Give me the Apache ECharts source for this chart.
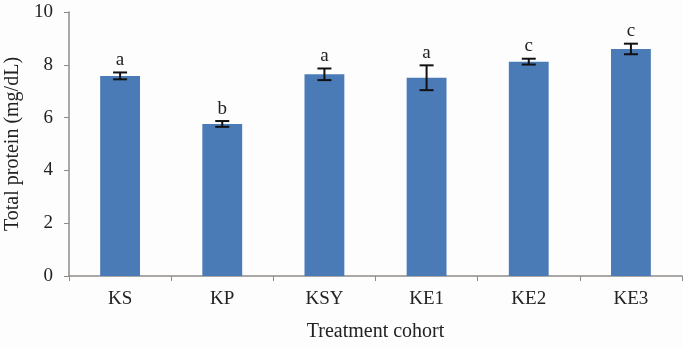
<!DOCTYPE html>
<html>
<head>
<meta charset="utf-8">
<script src="https://cdn.jsdelivr.net/npm/echarts@6/dist/echarts.min.js"></script>
<style>
  html, body { margin: 0; padding: 0; background: #fdfdfd; }
  #chart { width: 683px; height: 348px; }
</style>
</head>
<body>
<div id="chart"></div>
<script>
let cohorts = ["KS", "KP", "KSY", "KE1", "KE2", "KE3"];
let protein = [7.58, 5.76, 7.64, 7.51, 8.12, 8.6];
let errors = [0.13, 0.11, 0.22, 0.47, 0.11, 0.2];
let letters = ["a", "b", "a", "a", "c", "c"];
let yTicks = [0, 2, 4, 6, 8, 10];

let chart = echarts.init(document.getElementById("chart"));
let font = "Liberation Serif";
let axisGray = "#8e8a87";

chart.setOption({
  animation: false,
  backgroundColor: "#fdfdfd",
  textStyle: { fontFamily: font, color: "#222" },
  grid: { left: 69, right: 1, top: 12, bottom: 72, outerBoundsMode: "none" },
  xAxis: {
    type: "category",
    data: cohorts,
    name: "Treatment cohort",
    nameLocation: "middle",
    nameGap: 46,
    nameTextStyle: { fontFamily: font, fontSize: 20, color: "#222" },
    axisLine: { lineStyle: { color: axisGray, width: 1.5 } },
    axisTick: { show: true, length: 5, lineStyle: { color: axisGray } },
    axisLabel: { fontFamily: font, fontSize: 19, color: "#222", margin: 14 },
  },
  yAxis: {
    type: "value",
    min: yTicks[0],
    max: yTicks[yTicks.length - 1],
    interval: 2,
    name: "Total protein (mg/dL)",
    nameLocation: "middle",
    nameGap: 46,
    nameTextStyle: { fontFamily: font, fontSize: 20, color: "#222" },
    axisLine: { show: true, lineStyle: { color: axisGray, width: 1.5 } },
    axisTick: { show: true, length: 5, lineStyle: { color: axisGray } },
    axisLabel: { fontFamily: font, fontSize: 19, color: "#222", margin: 16 },
    splitLine: { show: false },
  },
  series: [
    {
      type: "bar",
      data: protein,
      barWidth: "39%",
      itemStyle: { color: "#4a7bb7" },
    },
    {
      type: "custom",
      data: protein.map((v, i) => [i, v, errors[i]]),
      z: 5,
      renderItem: function (params, api) {
        let x = api.value(0);
        let v = api.value(1);
        let e = api.value(2);
        let hi = api.coord([x, v + e]);
        let lo = api.coord([x, v - e]);
        let w = 7;
        let style = { stroke: "#111", lineWidth: 2 };
        return {
          type: "group",
          children: [
            { type: "line", shape: { x1: hi[0], y1: hi[1], x2: lo[0], y2: lo[1] }, style: style },
            { type: "line", shape: { x1: hi[0] - w, y1: hi[1], x2: hi[0] + w, y2: hi[1] }, style: style },
            { type: "line", shape: { x1: lo[0] - w, y1: lo[1], x2: lo[0] + w, y2: lo[1] }, style: style },
            {
              type: "text",
              style: {
                text: letters[params.dataIndex],
                x: hi[0],
                y: hi[1] - 3,
                align: "center",
                verticalAlign: "bottom",
                font: "19px " + font,
                fill: "#222",
              },
            },
          ],
        };
      },
    },
  ],
});
</script>
</body>
</html>
